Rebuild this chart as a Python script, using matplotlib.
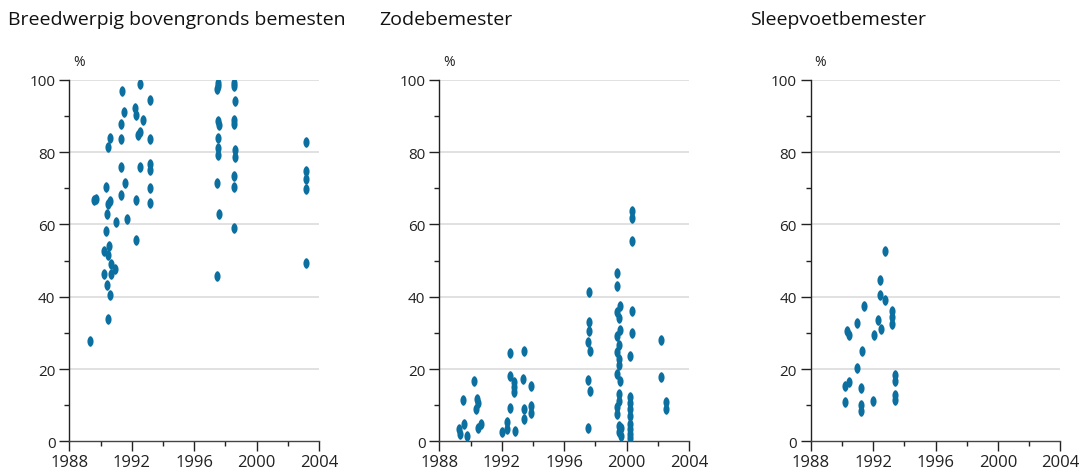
import numpy as np
import matplotlib
matplotlib.use("Agg")
import matplotlib.pyplot as plt
from matplotlib.path import Path
from matplotlib.ticker import MultipleLocator

plt.rcParams['font.family'] = ['Open Sans', 'DejaVu Sans']

# --- data ---
titles = ["Breedwerpig bovengronds bemesten", "Zodebemester", "Sleepvoetbemester"]

breed_years = [1992.5, 1991.4, 1993.2, 1992.2, 1991.5, 1992.25, 1992.7, 1991.3, 1992.5, 1992.4,
               1990.6, 1991.3, 1993.2, 1990.5, 1991.3, 1992.5, 1993.2, 1993.2, 1990.35, 1991.6,
               1993.2, 1991.3, 1992.3, 1993.2, 1989.6, 1989.7, 1990.6, 1990.45, 1990.4, 1991.7,
               1991.0, 1990.35, 1992.3, 1990.55, 1990.2, 1990.5, 1990.7, 1990.95, 1990.2, 1990.7,
               1990.4, 1990.6, 1990.5, 1989.3,
               1997.5, 1997.5, 1997.45, 1998.55, 1998.55, 1998.6, 1997.5, 1997.6, 1998.55, 1998.55,
               1997.5, 1997.5, 1997.5, 1998.6, 1998.6, 2003.15, 1997.45, 1998.55, 1998.55, 2003.15,
               2003.15, 2003.15, 1997.6, 1998.55, 2003.15, 1997.45]
breed_values = [98.9, 96.8, 94.3, 92.2, 91.0, 90.4, 88.8, 87.8, 85.6, 84.7,
                83.9, 83.7, 83.6, 81.5, 76.0, 76.0, 76.6, 75.0, 70.4, 71.5,
                70.2, 68.1, 66.7, 66.0, 66.7, 66.9, 66.5, 65.6, 63.0, 61.6,
                60.6, 58.3, 55.7, 54.1, 52.6, 51.6, 49.0, 47.8, 46.4, 46.4,
                43.1, 40.4, 33.9, 27.7,
                99.1, 98.4, 97.4, 99.1, 98.2, 94.0, 88.7, 87.6, 89.0, 87.9,
                83.9, 81.2, 79.3, 80.7, 78.7, 82.7, 71.5, 73.4, 70.4, 74.9,
                72.5, 69.9, 62.8, 59.0, 49.3, 45.8]

zode_years = [1992.53, 1993.4, 1990.25, 1992.5, 1993.37, 1992.8, 1992.8, 1992.8, 1993.86, 1989.54,
              1990.4, 1990.5, 1990.35, 1992.5, 1993.45, 1993.4, 1993.86, 1993.86, 1989.56, 1990.7,
              1990.5, 1992.34, 1992.34, 1989.28, 1989.33, 1989.76, 1992.04, 1992.85,
              2000.37, 2000.37, 2000.37, 1999.4, 1999.4, 1997.58, 1999.6, 1999.4, 1999.5, 2000.37,
              1997.6, 1997.6, 1999.6, 1999.4, 2000.37, 2002.2, 1997.5, 1997.66, 1999.5, 1999.4,
              1999.5, 1999.5, 2000.2, 1999.4, 2002.2, 1997.5, 1999.6, 1997.64, 1999.55, 1999.55,
              2000.2, 2000.2, 2002.5, 2002.5, 1999.4, 1999.4, 2000.2, 2000.2, 1997.5, 1999.55,
              1999.67, 1999.55, 1999.67, 2000.2, 2000.2, 2000.2, 2000.2]
zode_values = [24.5, 24.9, 16.7, 18.1, 17.2, 16.3, 14.9, 13.6, 15.4, 11.4,
               11.7, 10.6, 8.9, 9.3, 8.9, 6.2, 9.8, 7.7, 4.8, 4.8,
               3.6, 5.3, 3.4, 3.4, 2.0, 1.6, 2.5, 2.9,
               63.6, 61.8, 55.5, 46.5, 43.0, 41.4, 37.3, 35.7, 34.0, 36.1,
               33.1, 30.6, 30.9, 29.2, 29.9, 28.1, 27.4, 25.1, 26.6, 24.6,
               22.8, 21.1, 23.5, 18.6, 17.7, 17.0, 16.6, 13.8, 13.1, 11.2,
               12.3, 10.6, 10.8, 8.9, 9.4, 7.6, 8.9, 7.1, 3.7, 4.3,
               3.6, 2.5, 1.4, 4.9, 3.5, 2.1, 0.9]

sleep_years = [1992.78, 1992.46, 1992.46, 1992.78, 1991.44, 1993.2, 1993.2, 1993.2, 1992.3, 1992.5,
               1990.95, 1990.35, 1990.44, 1992.04, 1991.3, 1990.95, 1993.4, 1993.4, 1990.44, 1990.22,
               1991.2, 1993.4, 1993.4, 1990.22, 1991.24, 1991.24, 1992.0]
sleep_values = [52.6, 44.7, 40.6, 39.1, 37.5, 36.1, 34.3, 32.4, 33.6, 31.1,
                32.7, 30.6, 29.4, 29.4, 25.1, 20.2, 18.4, 16.8, 16.5, 15.4,
                14.7, 12.9, 11.4, 10.8, 10.1, 8.5, 11.2]

series = [(breed_years, breed_values), (zode_years, zode_values), (sleep_years, sleep_values)]

# vertical lens-like ellipse marker
t = np.linspace(0, 2 * np.pi, 48)
ellipse = Path(np.column_stack([0.58 * np.cos(t) * (0.75 + 0.25 * np.abs(np.cos(t))), np.sin(t)]),
               closed=True)

dot_color = '#0b6f9f'
W, H = 1080, 477
fig = plt.figure(figsize=(W / 100, H / 100), dpi=100)

lefts = [69.3, 439.3, 810.7]
title_x = [8, 379, 750]
ax_w = 249.6
ax_top, ax_bot = 80.8, 442.3

for i, (xs, ys) in enumerate(series):
    ax = fig.add_axes([lefts[i] / W, (H - ax_bot) / H, ax_w / W, (ax_bot - ax_top) / H])
    ax.scatter(xs, ys, marker=ellipse, s=58, color=dot_color, linewidths=0, zorder=3)
    ax.set_xlim(1988, 2004)
    ax.set_ylim(0, 100)
    ax.xaxis.set_major_locator(MultipleLocator(4))
    ax.xaxis.set_minor_locator(MultipleLocator(2))
    ax.yaxis.set_major_locator(MultipleLocator(20))
    ax.yaxis.set_minor_locator(MultipleLocator(10))
    for yv in range(20, 101, 20):
        ax.axhline(yv, color='#d9d9d9', lw=1.1, zorder=1)
    for s in ['top', 'right']:
        ax.spines[s].set_visible(False)
    ax.spines['left'].set_color('#222222')
    ax.spines['bottom'].set_color('#444444')
    ax.spines['left'].set_linewidth(1.0)
    ax.spines['bottom'].set_linewidth(1.0)
    ax.tick_params(which='major', length=7, width=1, direction='out', labelsize=11,
                   colors='#222222', pad=3)
    ax.tick_params(which='minor', length=3.5, width=1, direction='out', colors='#222222')
    ax.tick_params(axis='x', which='major', labelsize=12, pad=2)
    ax.text(0.015, 1.03, '%', transform=ax.transAxes, fontsize=10, ha='left', va='bottom',
            color='#222222')
    fig.text(title_x[i] / W, 1 - 20 / H, titles[i], fontsize=14, ha='left', va='center',
             color='#111111')

fig.savefig('out.png', dpi=100)
